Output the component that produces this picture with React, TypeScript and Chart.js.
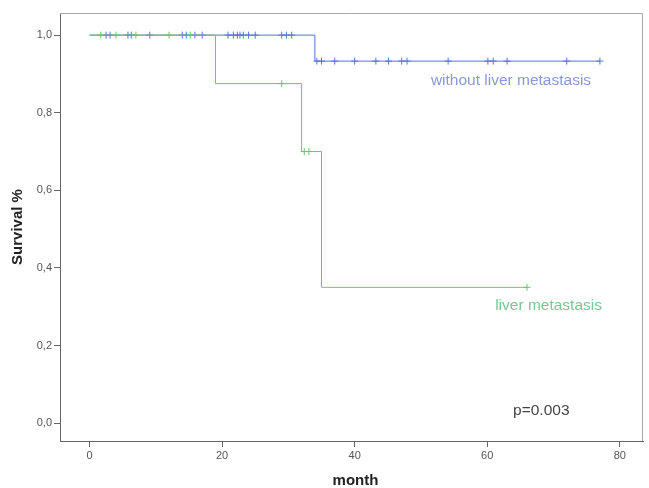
import { useEffect, useRef } from 'react';
import { Chart, registerables } from 'chart.js';

Chart.register(...registerables);

// ---- data ----
const xTickValues = [0, 20, 40, 60, 80];
const yTickValues = [0, 0.2, 0.4, 0.6, 0.8, 1.0];

// Kaplan-Meier step curves (time in months, survival proportion)
const noMetTimes = [0, 34, 77];
const noMetSurvival = [1.0, 0.933, 0.933];
const metTimes = [0, 19, 32, 35, 66];
const metSurvival = [1.0, 0.875, 0.7, 0.35, 0.35];

// censored observations (months)
const noMetCensored = [2.5, 3.1, 5.8, 6.3, 9.1, 14.0, 14.6, 15.9, 17.0, 20.9, 21.7, 22.3, 22.7, 23.2, 24.0, 25.0, 29.0, 29.7, 30.5, 34.3, 35.0, 37.0, 40.0, 43.2, 45.1, 47.1, 47.9, 54.1, 60.1, 60.9, 63.0, 72.0, 77.0];
const metCensored = [1.7, 4.0, 7.0, 12.0, 15.2, 29.0, 32.4, 33.1, 66.0];

const seriesNames = ['without liver metastasis', 'liver metastasis'];
const pValueText = 'p=0.003';
const xTitle = 'month';
const yTitle = 'Survival %';

const BLUE = '#5873d8';
const GREEN = '#66cc5e';
const BLUE_TEXT = '#8a98d6';
const GREEN_TEXT = '#78c794';

function survivalAt(times: number[], surv: number[], t: number): number {
  let s = surv[0];
  for (let i = 0; i < times.length; i++) {
    if (times[i] <= t) s = surv[i];
  }
  return s;
}

const FONT = 'Arial, "Liberation Sans", sans-serif';

export default function App() {
  const ref = useRef<HTMLCanvasElement | null>(null);

  useEffect(() => {
    document.body.style.margin = '0';
    const canvas = ref.current;
    if (!canvas) return;

    const framePlugin = {
      id: 'frameAndText',
      afterDraw(chart: any) {
        const ctx = chart.ctx;
        const { left, right, top, bottom } = chart.chartArea;
        const xs = chart.scales.x;
        const ys = chart.scales.y;
        ctx.save();
        // top & right frame
        ctx.strokeStyle = '#a8a8a8';
        ctx.lineWidth = 1;
        ctx.beginPath();
        ctx.moveTo(left, top + 0.5);
        ctx.lineTo(right - 0.5, top + 0.5);
        ctx.lineTo(right - 0.5, bottom);
        ctx.stroke();

        // series labels
        ctx.textBaseline = 'middle';
        ctx.textAlign = 'left';
        ctx.font = `15.5px ${FONT}`;
        ctx.fillStyle = BLUE_TEXT;
        ctx.fillText(seriesNames[0], xs.getPixelForValue(51.5), ys.getPixelForValue(0.882));
        ctx.fillStyle = GREEN_TEXT;
        ctx.fillText(seriesNames[1], xs.getPixelForValue(61.2), ys.getPixelForValue(0.303));
        ctx.fillStyle = '#444';
        ctx.font = `15.5px ${FONT}`;
        ctx.fillText(pValueText, xs.getPixelForValue(63.9), ys.getPixelForValue(0.031));

        // axis titles
        ctx.fillStyle = '#222';
        ctx.font = `bold 15px ${FONT}`;
        ctx.textAlign = 'center';
        ctx.fillText(xTitle, (left + right) / 2 + 4, 481);
        ctx.translate(18, (top + bottom) / 2);
        ctx.rotate(-Math.PI / 2);
        ctx.fillText(yTitle, 0, 0);
        ctx.restore();
      },
    };

    const chart = new Chart(canvas, {
      type: 'scatter',
      data: {
        datasets: [
          {
            label: seriesNames[1],
            data: metTimes.map((t, i) => ({ x: t, y: metSurvival[i] })),
            showLine: true,
            stepped: 'before',
            borderColor: GREEN,
            borderWidth: 1,
            pointRadius: 0,
            order: 0,
          },
          {
            label: seriesNames[1] + ' censored',
            data: metCensored.map((t) => ({ x: t, y: survivalAt(metTimes, metSurvival, t) })),
            showLine: false,
            pointStyle: 'cross',
            pointRadius: 3.5,
            borderColor: GREEN,
            borderWidth: 1,
            order: 0,
          },
          {
            label: seriesNames[0],
            data: noMetTimes.map((t, i) => ({ x: t, y: noMetSurvival[i] })),
            showLine: true,
            stepped: 'before',
            borderColor: BLUE,
            borderWidth: 1,
            pointRadius: 0,
            order: 1,
          },
          {
            label: seriesNames[0] + ' censored',
            data: noMetCensored.map((t) => ({ x: t, y: survivalAt(noMetTimes, noMetSurvival, t) })),
            showLine: false,
            pointStyle: 'cross',
            pointRadius: 3.5,
            borderColor: BLUE,
            borderWidth: 1,
            order: 1,
          },
        ] as any,
      },
      options: {
        animation: false,
        responsive: false,
        devicePixelRatio: 1,
        layout: { padding: { top: 13, right: 6, left: 0, bottom: 0 } },
        plugins: {
          legend: { display: false },
          tooltip: { enabled: false },
        },
        scales: {
          x: {
            type: 'linear',
            min: -4.45,
            max: 83.5,
            afterFit: (s: any) => {
              s.height = 47;
            },
            afterBuildTicks: (s: any) => {
              s.ticks = xTickValues.map((v) => ({ value: v }));
            },
            grid: { display: true, drawOnChartArea: false, drawTicks: true, tickLength: 6, color: '#666' },
            border: { display: true, color: '#666', width: 1 },
            ticks: {
              padding: 2,
              color: '#555',
              font: { family: FONT, size: 11 },
              maxRotation: 0,
              callback: (v: any) => String(v),
            },
          },
          y: {
            type: 'linear',
            min: -0.046,
            max: 1.057,
            afterFit: (s: any) => {
              s.width = 60;
            },
            afterBuildTicks: (s: any) => {
              s.ticks = yTickValues.map((v) => ({ value: v }));
            },
            grid: { display: true, drawOnChartArea: false, drawTicks: true, tickLength: 6, color: '#666' },
            border: { display: true, color: '#666', width: 1 },
            ticks: {
              padding: 2,
              color: '#555',
              font: { family: FONT, size: 11 },
              callback: (v: any) => Number(v).toFixed(1).replace('.', ','),
            },
          },
        },
      } as any,
      plugins: [framePlugin],
    });

    return () => chart.destroy();
  }, []);

  return (
    <div style={{ width: 649, height: 488, background: '#fff' }}>
      <canvas ref={ref} width={649} height={488} style={{ display: 'block' }} />
    </div>
  );
}
